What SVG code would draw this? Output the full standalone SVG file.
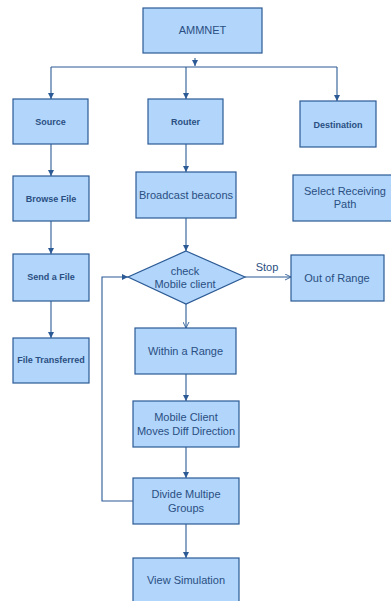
<svg xmlns="http://www.w3.org/2000/svg" width="391" height="601" viewBox="0 0 391 601">
<defs>
<style>
.box{fill:#b1d5fb;stroke:#2b5a95;stroke-width:1.2}
.t{font-family:"Liberation Sans",Arial,sans-serif;fill:#2a4f82;text-anchor:middle}
.r{font-size:11px}
.b{font-size:9px;font-weight:bold}
.c{fill:none;stroke:#2b5a95;stroke-width:1.1}
</style>
<marker id="ah" viewBox="0 0 8 8" refX="7" refY="4" markerWidth="7" markerHeight="7" orient="auto" markerUnits="userSpaceOnUse">
<path d="M0,0.5 L7,4 L0,7.5 Z" fill="#2b5a95"/>
</marker>
<marker id="oh" viewBox="0 0 8 8" refX="7" refY="4" markerWidth="7" markerHeight="7" orient="auto" markerUnits="userSpaceOnUse">
<path d="M0,0.5 L7,4 L0,7.5" fill="none" stroke="#2b5a95" stroke-width="1"/>
</marker>
</defs>
<rect width="391" height="601" fill="#ffffff"/>
<g id="connectors">
<path class="c" d="M195,58 V66" marker-end="url(#ah)"/>
<path class="c" d="M51,67 H337"/>
<path class="c" d="M51,67 V99" marker-end="url(#ah)"/>
<path class="c" d="M186,67 V99" marker-end="url(#ah)"/>
<path class="c" d="M337,67 V101" marker-end="url(#ah)"/>
<path class="c" d="M51,144 V176" marker-end="url(#ah)"/>
<path class="c" d="M51,221 V254" marker-end="url(#ah)"/>
<path class="c" d="M51,301 V338" marker-end="url(#ah)"/>
<path class="c" d="M186,144 V172" marker-end="url(#ah)"/>
<path class="c" d="M186,218 V251" marker-end="url(#ah)"/>
<path class="c" d="M245,277 H291" marker-end="url(#oh)"/>
<path class="c" d="M186,304 V328" marker-end="url(#oh)"/>
<path class="c" d="M186,374 V401" marker-end="url(#ah)"/>
<path class="c" d="M186,447 V478" marker-end="url(#ah)"/>
<path class="c" d="M186,524 V558" marker-end="url(#ah)"/>
<path class="c" d="M133,501 H102 V277 H128" marker-end="url(#ah)"/>
<text class="t r" x="267" y="271">Stop</text>
</g>
<g id="ammnet"><rect class="box" x="143" y="8" width="119" height="45"/><text class="t r" x="202.5" y="34">AMMNET</text></g>
<g id="source"><rect class="box" x="13" y="99" width="75" height="45"/><text class="t b" x="50.5" y="125">Source</text></g>
<g id="router"><rect class="box" x="148" y="99" width="75" height="45"/><text class="t b" x="185.5" y="125">Router</text></g>
<g id="destination"><rect class="box" x="300" y="101" width="76" height="46"/><text class="t b" x="338" y="128">Destination</text></g>
<g id="browse"><rect class="box" x="13" y="176" width="76" height="45"/><text class="t b" x="51" y="202">Browse File</text></g>
<g id="broadcast"><rect class="box" x="136" y="172" width="100" height="46"/><text class="t r" x="186" y="199">Broadcast beacons</text></g>
<g id="select"><rect class="box" x="293" y="175" width="104" height="46"/><text class="t r" x="345" y="195">Select Receiving</text><text class="t r" x="345" y="208">Path</text></g>
<g id="send"><rect class="box" x="13" y="254" width="76" height="47"/><text class="t b" x="51" y="280">Send a File</text></g>
<g id="check"><polygon class="box" points="186,251 245,277 186,304 128,277"/><text class="t r" x="185" y="275">check</text><text class="t r" x="185" y="288">Mobile client</text></g>
<g id="outofrange"><rect class="box" x="291" y="255" width="93" height="46"/><text class="t r" x="337" y="282">Out of Range</text></g>
<g id="transferred"><rect class="box" x="13" y="338" width="76" height="45"/><text class="t b" x="51" y="363">File Transferred</text></g>
<g id="within"><rect class="box" x="135" y="328" width="101" height="46"/><text class="t r" x="185.5" y="355">Within a Range</text></g>
<g id="moves"><rect class="box" x="133" y="401" width="106" height="46"/><text class="t r" x="186" y="421">Mobile Client</text><text class="t r" x="186" y="435">Moves Diff Direction</text></g>
<g id="divide"><rect class="box" x="133" y="478" width="106" height="46"/><text class="t r" x="186" y="498">Divide Multipe</text><text class="t r" x="186" y="512">Groups</text></g>
<g id="view"><rect class="box" x="133" y="558" width="106" height="46"/><text class="t r" x="186" y="584">View Simulation</text></g>
</svg>
